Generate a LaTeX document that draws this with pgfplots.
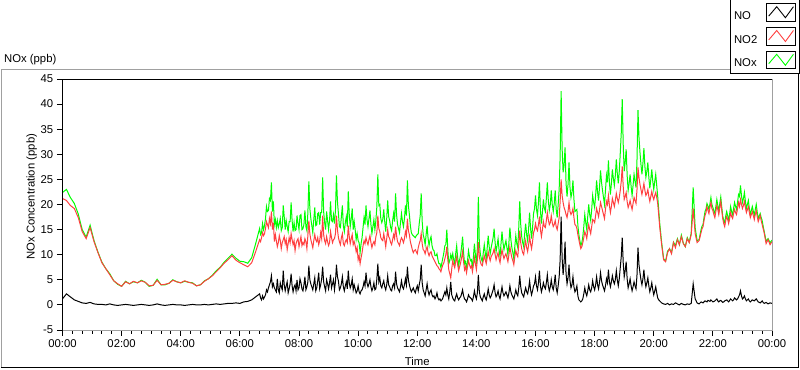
\documentclass[border=0pt]{standalone}
\usepackage{pgfplots}
\pgfplotsset{compat=1.18}
\usepackage{pgfplotstable}
\usepackage{fontspec}
\setmainfont{Liberation Sans}
\definecolor{noxgreen}{RGB}{0,255,0}
\definecolor{notwored}{RGB}{255,64,64}
\definecolor{framegray}{RGB}{160,160,160}
\pgfplotstableread{
t no no2 nox
0 1.2 21.2 22.4
8 2.2 20.8 23.0
16 1.6 19.8 21.4
24 1.0 19.2 20.2
32 0.7 17.4 18.1
40 0.4 14.6 15.0
48 0.3 13.2 13.5
56 0.5 15.4 15.9
64 0.2 12.6 12.8
72 0.1 10.4 10.5
80 0.1 8.4 8.5
88 0.0 7.2 7.2
96 0.2 6.0 6.2
104 0.0 4.8 4.8
112 -0.1 4.2 4.1
120 0.0 3.7 3.7
128 0.1 4.6 4.7
136 0.0 4.2 4.2
144 -0.1 4.7 4.6
152 0.0 4.4 4.4
160 0.1 4.8 4.9
168 0.0 4.5 4.5
176 -0.1 3.8 3.7
184 0.0 3.9 3.9
192 0.2 4.9 5.1
200 0.0 4.0 4.0
208 -0.1 4.1 4.0
216 0.0 4.3 4.3
224 0.1 4.9 5.0
232 0.0 4.6 4.6
240 0.0 4.4 4.4
248 -0.1 4.8 4.7
256 0.0 4.5 4.5
264 0.1 4.3 4.4
272 0.0 3.8 3.8
280 0.0 4.0 4.0
288 0.1 4.7 4.8
296 0.0 5.2 5.2
304 0.1 5.8 5.9
312 0.2 6.6 6.8
320 0.1 7.4 7.5
328 0.2 8.3 8.5
336 0.3 9.0 9.3
344 0.3 9.8 10.1
352 0.4 8.9 9.3
360 0.3 8.4 8.7
368 0.6 8.0 8.6
376 0.7 7.6 8.3
384 1.0 8.4 9.4
392 1.6 10.6 12.2
400 2.2 13.0 15.2
402 1.4 12.6 14.0
404 1.0 13.4 14.4
406 1.8 14.4 16.2
408 1.2 13.8 15.0
410 1.6 14.2 15.8
412 2.0 15.2 17.2
414 3.0 16.6 19.6
416 2.6 16.0 18.6
418 3.4 15.4 18.8
420 4.0 17.2 21.2
422 4.6 16.2 20.8
424 5.8 18.6 24.4
426 3.6 15.0 18.6
428 4.2 16.4 20.6
430 3.4 12.6 16.0
432 3.0 14.0 17.0
434 2.6 12.8 15.4
436 5.2 11.6 16.8
438 3.0 12.4 15.4
440 2.4 13.8 16.2
442 4.4 12.8 17.2
444 3.6 11.2 14.8
446 3.0 12.4 15.4
448 6.8 13.0 19.8
450 4.0 13.6 17.6
452 2.8 12.2 15.0
454 3.8 13.0 16.8
456 4.6 11.0 15.6
458 2.4 12.2 14.6
460 3.2 13.4 16.6
462 4.2 12.4 16.6
464 6.2 14.2 20.4
466 3.8 13.0 16.8
468 2.6 12.0 14.6
470 3.6 12.8 16.4
472 4.0 10.8 14.8
474 2.8 12.2 15.0
476 5.0 12.8 17.8
478 3.0 13.2 16.2
480 3.4 11.6 15.0
482 5.2 12.6 17.8
484 4.4 13.6 18.0
486 3.2 11.8 15.0
488 2.8 12.4 15.2
490 4.0 12.0 16.0
492 5.6 13.2 18.8
494 3.0 12.6 15.6
496 3.6 11.2 14.8
498 4.6 13.8 18.4
500 7.8 16.8 24.6
502 5.0 14.2 19.2
504 4.2 13.0 17.2
506 3.6 12.2 15.8
508 3.0 11.4 14.4
510 4.2 12.8 17.0
512 5.4 14.0 19.4
514 2.8 13.0 15.8
516 3.4 12.6 16.0
518 4.8 13.4 18.2
520 6.4 12.0 18.4
522 3.2 12.8 16.0
524 4.0 14.4 18.4
526 5.2 13.2 18.4
528 7.6 17.8 25.4
530 4.6 14.0 18.6
532 3.6 12.8 16.4
534 2.8 12.2 15.0
536 5.0 13.6 18.6
538 4.2 12.6 16.8
540 3.2 11.8 15.0
542 4.4 12.4 16.8
544 6.0 14.6 20.6
546 3.4 13.4 16.8
548 4.2 12.4 16.6
550 5.0 13.0 18.0
552 3.0 13.2 16.2
554 4.6 14.2 18.8
556 8.0 17.8 25.8
558 5.6 15.0 20.6
560 4.8 13.4 18.2
562 3.0 12.6 15.6
564 3.4 12.0 15.4
566 4.2 13.4 17.6
568 5.6 14.2 19.8
570 3.6 12.2 15.8
572 2.8 11.8 14.6
574 3.8 12.6 16.4
576 4.6 13.0 17.6
578 3.2 12.4 15.6
580 6.8 15.8 22.6
582 4.4 13.6 18.0
584 3.4 12.2 15.6
586 4.0 13.2 17.2
588 5.2 14.0 19.2
590 3.0 12.0 15.0
592 4.0 12.6 16.6
594 3.2 11.8 15.0
596 2.4 10.6 13.0
598 2.8 11.4 14.2
600 3.8 9.0 12.8
602 2.6 9.8 12.4
604 2.2 8.2 10.4
606 2.8 9.4 12.2
608 3.0 10.4 13.4
610 3.6 11.8 15.4
612 4.6 12.8 17.4
614 3.8 12.2 16.0
616 6.4 13.4 19.8
618 4.4 12.6 17.0
620 3.6 12.0 15.6
622 4.2 13.0 17.2
624 5.0 13.8 18.8
626 3.6 12.4 16.0
628 2.8 11.4 14.2
630 3.4 12.2 15.6
632 4.4 12.6 17.0
634 3.0 12.0 15.0
636 3.2 13.6 16.8
638 5.2 14.4 19.6
640 8.2 17.8 26.0
642 4.6 15.2 19.8
644 5.4 14.6 20.0
646 3.8 13.4 17.2
648 3.4 13.0 16.4
650 4.2 12.8 17.0
652 4.8 14.2 19.0
654 3.6 13.0 16.6
656 3.0 11.6 14.6
658 4.0 13.2 17.2
660 5.8 15.0 20.8
662 4.0 13.6 17.6
664 3.6 13.2 16.8
666 3.0 12.4 15.4
668 2.8 12.0 14.8
670 3.8 13.0 16.8
672 4.2 14.0 18.2
674 3.4 13.2 16.6
676 6.6 15.6 22.2
678 4.2 13.8 18.0
680 3.4 12.6 16.0
682 3.0 12.2 15.2
684 2.6 11.8 14.4
686 3.6 12.8 16.4
688 4.8 13.4 18.2
690 3.6 13.0 16.6
692 3.2 12.4 15.6
694 4.0 13.2 17.2
696 5.2 14.6 19.8
698 4.0 13.8 17.8
700 7.6 17.2 24.8
702 5.0 14.8 19.8
704 4.0 14.0 18.0
706 3.2 12.6 15.8
708 2.6 11.8 14.4
710 3.0 11.0 14.0
712 3.4 10.4 13.8
714 2.8 10.8 13.6
716 2.4 11.0 13.4
718 3.2 10.6 13.8
720 3.8 10.2 14.0
722 2.8 11.4 14.2
724 4.0 12.2 16.2
726 5.0 12.8 17.8
728 8.0 14.2 22.2
730 4.4 12.2 16.6
732 3.0 11.0 14.0
734 2.4 10.8 13.2
736 1.8 10.2 12.0
738 3.0 11.0 14.0
740 4.2 11.6 15.8
742 2.8 10.4 13.2
744 2.0 9.8 11.8
746 2.6 10.4 13.0
748 3.0 10.6 13.6
750 2.0 9.8 11.8
752 1.6 9.4 11.0
754 1.8 9.0 10.8
756 1.2 8.6 9.8
758 1.6 8.2 9.8
760 2.4 7.8 10.2
762 1.4 7.6 9.0
764 1.0 7.2 8.2
766 1.2 7.0 8.2
768 0.8 6.6 7.4
770 1.0 7.4 8.4
772 1.4 8.0 9.4
774 2.0 8.4 10.4
776 2.6 9.2 11.8
778 2.0 10.0 12.0
780 3.4 11.6 15.0
782 2.0 9.0 11.0
784 1.2 7.0 8.2
786 2.6 6.2 8.8
788 4.6 5.4 10.0
790 2.0 7.2 9.2
792 1.4 8.8 10.2
794 1.0 8.0 9.0
796 0.8 7.4 8.2
798 1.6 8.6 10.2
800 2.2 9.6 11.8
802 1.4 8.0 9.4
804 1.0 6.8 7.8
806 1.4 7.6 9.0
808 1.6 8.4 10.0
810 2.2 9.4 11.6
812 3.0 10.6 13.6
814 1.8 8.6 10.4
816 1.2 7.0 8.2
818 1.0 7.6 8.6
820 0.6 6.4 7.0
822 1.2 7.6 8.8
824 2.0 8.8 10.8
826 1.6 8.0 9.6
828 1.4 7.4 8.8
830 1.2 7.8 9.0
832 0.8 6.6 7.4
834 1.6 8.0 9.6
836 2.8 9.4 12.2
838 1.8 8.2 10.0
840 1.2 7.0 8.2
842 2.4 9.0 11.4
844 6.0 12.5 21.5
846 2.6 9.6 12.2
848 1.6 8.6 10.2
850 1.2 8.0 9.2
852 0.8 7.8 8.6
854 1.6 8.8 10.4
856 2.2 9.8 12.0
858 1.4 9.0 10.4
860 1.0 8.2 9.2
862 2.0 9.4 11.4
864 3.2 10.6 13.8
866 2.0 9.6 11.6
868 1.4 8.8 10.2
870 1.8 9.6 11.4
872 2.4 10.0 12.4
874 3.0 10.4 13.4
876 4.0 11.2 15.2
878 2.4 10.0 12.4
880 1.6 9.0 10.6
882 2.0 9.8 11.8
884 2.8 10.4 13.2
886 1.8 9.2 11.0
888 1.2 8.4 9.6
890 2.4 9.8 12.2
892 3.6 11.0 14.6
894 2.4 10.0 12.4
896 1.8 9.2 11.0
898 2.2 9.8 12.0
900 2.6 10.2 12.8
902 2.0 9.4 11.4
904 1.4 8.6 10.0
906 2.4 10.0 12.4
908 3.8 11.6 15.4
910 2.6 10.4 13.0
912 2.0 9.4 11.4
914 1.6 8.8 10.4
916 1.2 8.0 9.2
918 2.0 9.6 11.6
920 3.0 10.8 13.8
922 2.2 10.0 12.2
924 1.8 9.6 11.4
926 3.4 12.0 15.4
928 5.8 14.8 20.6
930 3.6 12.4 16.0
932 2.4 11.2 13.6
934 2.0 10.4 12.4
936 1.6 10.0 11.6
938 2.6 11.6 14.2
940 3.4 12.8 16.2
942 2.6 11.4 14.0
944 2.2 10.6 12.8
946 3.2 12.0 15.2
948 4.8 13.6 18.4
950 3.0 12.2 15.2
952 2.0 11.2 13.2
954 2.8 12.6 15.4
956 3.8 14.4 18.2
958 4.2 15.0 19.2
960 5.6 16.2 21.8
962 3.8 15.2 19.0
964 3.0 14.8 17.8
966 4.4 16.0 20.4
968 6.8 17.6 24.4
970 3.8 15.0 18.8
972 2.6 13.6 16.2
974 3.4 15.0 18.4
976 4.4 16.6 21.0
978 3.6 15.6 19.2
980 3.2 15.4 18.6
982 4.4 16.8 21.2
984 6.0 18.4 24.4
986 3.8 17.0 20.8
988 2.8 16.0 18.8
990 3.6 16.4 20.0
992 5.0 17.8 22.8
994 3.6 16.4 20.0
996 3.0 15.6 18.6
998 4.2 16.0 20.2
1000 6.0 16.8 22.8
1002 3.4 15.6 19.0
1004 2.4 15.0 17.4
1006 3.8 16.2 20.0
1008 5.6 17.4 23.0
1010 9.0 20.6 29.6
1012 17.6 25.0 42.6
1014 9.4 21.8 31.2
1016 6.0 20.4 26.4
1018 8.4 19.4 27.8
1020 12.6 18.8 31.4
1022 6.2 18.0 24.2
1024 4.2 17.4 21.6
1026 5.4 18.6 24.0
1028 8.0 20.4 28.4
1030 4.8 18.6 23.4
1032 3.4 18.0 21.4
1034 4.0 18.4 22.4
1036 5.6 19.2 24.8
1038 3.6 17.4 21.0
1040 2.6 16.0 18.6
1042 3.0 15.8 18.8
1044 3.8 15.2 19.0
1046 1.8 14.0 15.8
1048 1.0 13.0 14.0
1050 0.8 12.0 12.8
1052 0.6 11.2 11.8
1054 0.8 11.6 12.4
1056 1.2 12.4 13.6
1058 2.2 13.4 15.6
1060 3.4 14.6 18.0
1062 2.4 14.0 16.4
1064 1.8 13.2 15.0
1066 2.8 14.8 17.6
1068 4.0 16.0 20.0
1070 3.0 15.0 18.0
1072 2.6 14.2 16.8
1074 3.4 15.6 19.0
1076 4.8 17.0 21.8
1078 3.6 16.8 20.4
1080 3.0 16.4 19.4
1082 4.0 17.8 21.8
1084 5.6 19.2 24.8
1086 4.0 18.4 22.4
1088 3.2 17.6 20.8
1090 4.6 19.0 23.6
1092 6.4 20.4 26.8
1094 4.8 19.6 24.4
1096 4.0 18.8 22.8
1098 3.4 18.0 21.4
1100 2.8 17.2 20.0
1102 3.8 19.0 22.8
1104 5.2 20.6 25.8
1106 4.4 20.0 24.4
1108 7.0 21.8 28.8
1110 4.6 19.8 24.4
1112 3.6 18.4 22.0
1114 4.6 19.6 24.2
1116 5.8 21.2 27.0
1118 4.8 20.4 25.2
1120 4.2 19.6 23.8
1122 5.0 20.8 25.8
1124 6.8 22.2 29.0
1126 5.0 21.2 26.2
1128 3.8 20.4 24.2
1130 5.2 21.4 26.6
1132 7.4 22.8 30.2
1134 9.6 24.6 34.2
1136 13.4 27.6 41.0
1138 8.4 23.6 32.0
1140 5.6 21.0 26.6
1142 6.8 21.6 28.4
1144 8.6 22.4 31.0
1146 5.2 20.6 25.8
1148 3.4 19.4 22.8
1150 4.2 20.0 24.2
1152 5.2 20.8 26.0
1154 3.8 19.8 23.6
1156 2.8 19.0 21.8
1158 3.6 20.2 23.8
1160 4.6 21.4 26.0
1162 3.8 20.8 24.6
1164 3.2 20.2 23.4
1166 6.0 23.0 29.0
1168 11.4 27.4 38.8
1170 8.0 25.4 33.4
1172 6.4 24.0 30.4
1174 5.0 23.0 28.0
1176 4.0 22.0 26.0
1178 5.2 23.0 28.2
1180 7.0 24.2 31.2
1182 4.8 22.8 27.6
1184 3.6 21.8 25.4
1186 4.4 22.2 26.6
1188 5.4 23.0 28.4
1190 3.8 21.6 25.4
1192 2.6 20.6 23.2
1194 3.4 21.6 25.0
1196 4.4 22.6 27.0
1198 3.0 21.6 24.6
1200 2.0 21.0 23.0
1202 2.8 21.8 24.6
1204 3.6 22.4 26.0
1206 2.4 21.4 23.8
1208 1.4 20.2 21.6
1210 1.0 18.0 19.0
1212 0.8 15.6 16.4
1216 0.4 12.0 12.4
1220 0.2 9.0 9.2
1224 0.1 8.6 8.7
1228 0.3 10.4 10.7
1232 0.0 11.2 11.2
1236 0.2 10.2 10.4
1240 0.1 12.4 12.5
1244 0.4 11.4 11.8
1248 0.2 13.0 13.2
1252 0.0 12.0 12.0
1256 0.3 13.6 13.9
1260 0.1 12.2 12.3
1264 0.0 11.6 11.6
1268 0.2 13.2 13.4
1272 0.1 12.4 12.5
1276 0.3 14.0 14.3
1280 4.2 19.2 23.4
1284 1.2 14.2 15.4
1288 0.4 12.4 12.8
1292 0.2 12.8 13.0
1296 0.6 14.4 15.0
1298 0.5 15.2 15.7
1300 0.4 15.6 16.0
1302 0.6 16.8 17.4
1304 0.8 17.8 18.6
1306 0.7 18.4 19.1
1308 0.6 19.6 20.2
1310 0.9 18.8 19.7
1312 0.8 18.2 19.0
1314 0.7 19.4 20.1
1316 1.0 20.4 21.4
1318 0.8 19.2 20.0
1320 0.6 18.8 19.4
1322 0.7 18.0 18.7
1324 0.8 17.4 18.2
1326 1.0 18.6 19.6
1328 1.2 19.8 21.0
1330 0.8 19.0 19.8
1332 0.6 18.0 18.6
1334 0.8 19.4 20.2
1336 0.9 20.6 21.5
1338 0.7 18.8 19.5
1340 0.5 17.2 17.7
1342 0.6 16.2 16.8
1344 0.8 15.6 16.4
1346 0.9 16.8 17.7
1348 1.0 17.6 18.6
1350 0.8 17.0 17.8
1352 0.6 16.2 16.8
1354 0.9 17.2 18.1
1356 1.2 18.4 19.6
1358 1.0 17.6 18.6
1360 0.8 17.2 18.0
1362 1.0 18.2 19.2
1364 1.4 19.0 20.4
1366 1.2 18.4 19.6
1368 1.0 18.0 19.0
1370 1.2 19.2 20.4
1372 1.6 20.4 22.0
1374 2.0 19.6 21.6
1376 2.8 21.0 23.8
1378 1.8 20.0 21.8
1380 1.2 19.2 20.4
1382 1.4 19.8 21.2
1384 1.8 20.6 22.4
1386 1.2 19.4 20.6
1388 0.8 18.4 19.2
1390 1.0 19.0 20.0
1392 1.2 19.6 20.8
1394 0.8 18.4 19.2
1396 0.6 17.4 18.0
1398 0.8 18.0 18.8
1400 1.0 18.6 19.6
1402 0.9 17.8 18.7
1404 0.8 17.0 17.8
1406 1.0 18.0 19.0
1408 1.2 18.8 20.0
1410 0.9 17.6 18.5
1412 0.6 16.6 17.2
1414 0.5 17.2 17.7
1416 0.4 17.8 18.2
1418 0.6 16.8 17.4
1420 0.8 16.0 16.8
1422 0.5 15.2 15.7
1424 0.3 14.4 14.7
1428 0.5 12.2 12.7
1432 0.2 13.0 13.2
1436 0.4 12.0 12.4
1440 0.3 12.6 12.9
}\data
\begin{document}
\fontsize{11.3bp}{13bp}\selectfont
\begin{tikzpicture}[x=1bp,y=1bp]
\path[use as bounding box] (0,0) rectangle (800,369);
\draw[framegray,line width=1bp] (1,1.5) -- (1,299.5) -- (730.5,299.5);
\draw[black,line width=1bp] (1,1.5) -- (798.8,1.5) -- (798.8,297.5);
\node[anchor=base west, inner sep=0pt] at (4,307) {NOx (ppb)};
\begin{axis}[
  at={(62.5bp,39bp)}, anchor=south west, scale only axis,
  width=709.5bp, height=251bp,
  xmin=0, xmax=1440, ymin=-5, ymax=45,
  xtick={0,120,...,1440},
  xticklabels={00:00,02:00,04:00,06:00,08:00,10:00,12:00,14:00,16:00,18:00,20:00,22:00,00:00},
  minor x tick num=5,
  ytick={-5,0,...,45},
  tick pos=left, tick align=outside,
  major tick length=5.5bp, minor tick length=3.5bp,
  every tick/.style={black, line width=1bp},
  axis line style={draw=none},
  /pgf/number format/assume math mode=true,
  xticklabel style={inner sep=0pt, anchor=base, yshift=-11.8bp},
  yticklabel style={inner sep=0pt, anchor=east, xshift=-3.7bp},
  xlabel={Time},
  xlabel style={at={(axis description cs:0.5,-0.1434)}, anchor=base, inner sep=0pt},
  ylabel={NOx Concentration (ppb)},
  ylabel style={at={(axis description cs:-0.0434,0.531)}, anchor=center, inner sep=0pt},
  legend plot pos=right, legend cell align=left, reverse legend,
  legend style={at={(axis description cs:1.03876,1.31873)}, anchor=north east,
    draw=black, line width=1bp, fill=white, outer sep=0pt,
    inner xsep=4bp, inner ysep=4bp, row sep=5.3bp,
    nodes={inner sep=0pt},
    /tikz/every odd column/.append style={column sep=9bp}},
  legend image code/.code={
    \draw[black, solid, line width=0.8bp] (0bp,-4.95bp) rectangle (28.4bp,12.75bp);
    \draw[#1, line width=0.9bp] (2bp,0.05bp) -- (10bp,9.45bp) -- (18.7bp,-1.55bp) -- (26.7bp,9.45bp);
  },
  after end axis/.code={
    \draw[framegray, line width=1bp] (rel axis cs:0,0) -- (rel axis cs:1,0) -- (rel axis cs:1,1);
    \draw[black, line width=1bp] (rel axis cs:0,0) -- (rel axis cs:0,1) -- (rel axis cs:1,1);
  },
]
\addplot[noxgreen, line width=1bp] table[x=t, y=nox] {\data};
\addlegendentry{NOx}
\addplot[notwored, line width=1bp] table[x=t, y=no2] {\data};
\addlegendentry{NO2}
\addplot[black, line width=1bp] table[x=t, y=no] {\data};
\addlegendentry{NO}
\end{axis}
\end{tikzpicture}
\end{document}
